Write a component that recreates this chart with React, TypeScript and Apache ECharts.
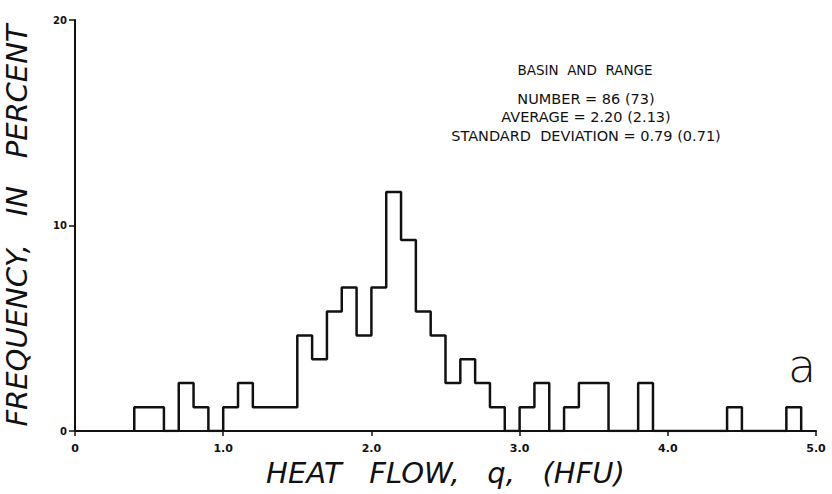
import React, { useEffect, useRef } from "react";
import * as echarts from "echarts";

// Histogram bins (left edge of each 0.1 HFU bin) and frequency in percent
const binStarts = [
  0.4, 0.5, 0.6, 0.7, 0.8, 0.9, 1.0, 1.1, 1.2, 1.3, 1.4, 1.5, 1.6, 1.7, 1.8, 1.9,
  2.0, 2.1, 2.2, 2.3, 2.4, 2.5, 2.6, 2.7, 2.8, 2.9, 3.0, 3.1, 3.2, 3.3, 3.4, 3.5,
  3.6, 3.7, 3.8, 3.9, 4.0, 4.1, 4.2, 4.3, 4.4, 4.5, 4.6, 4.7, 4.8, 4.9,
];
const frequency = [
  1.16, 1.16, 0, 2.33, 1.16, 0, 1.16, 2.33, 1.16, 1.16, 1.16, 4.65, 3.49, 5.81, 6.98, 4.65,
  6.98, 11.63, 9.3, 5.81, 4.65, 2.33, 3.49, 2.33, 1.16, 0, 1.16, 2.33, 0, 1.16, 2.33, 2.33,
  0, 0, 2.33, 0, 0, 0, 0, 0, 1.16, 0, 0, 0, 1.16, 0,
];
const xTicks = [0, 1, 2, 3, 4, 5];
const yTicks = [0, 10, 20];

const infoTitle = "BASIN  AND  RANGE";
const infoLines = [
  "NUMBER = 86 (73)",
  "AVERAGE = 2.20 (2.13)",
  "STANDARD  DEVIATION = 0.79 (0.71)",
];

export default function App() {
  const ref = useRef<HTMLDivElement>(null);
  useEffect(() => {
    if (!ref.current) return;
    const chart = echarts.init(ref.current, null, { renderer: "svg" });
    const points: number[][] = [[binStarts[0], 0]];
    binStarts.forEach((x, i) => points.push([x, frequency[i]]));

    chart.setOption({
      animation: false,
      backgroundColor: "#ffffff",
      grid: {
        left: 75,
        right: 16,
        top: 20,
        bottom: 63,
        containLabel: false,
        outerBoundsMode: "none",
      },
      xAxis: {
        type: "value",
        min: 0,
        max: 5,
        interval: 1,
        name: "HEAT   FLOW,   q,   (HFU)",
        nameLocation: "middle",
        nameGap: 27,
        nameTextStyle: {
          fontFamily: "DejaVu Sans",
          fontStyle: "italic",
          fontSize: 29,
          fontWeight: 300,
          color: "#111",
        },
        axisLine: { lineStyle: { color: "#111", width: 2 } },
        axisTick: { show: true, length: 5, lineStyle: { color: "#111", width: 1.5 } },
        axisLabel: {
          color: "#111",
          fontFamily: "DejaVu Sans",
          fontWeight: "bold",
          fontSize: 11,
          margin: 12,
          customValues: xTicks,
          formatter: (v: number) => (v === 0 ? "0" : v.toFixed(1)),
        },
        splitLine: { show: false },
      },
      yAxis: {
        type: "value",
        min: 0,
        max: 20,
        interval: 10,
        name: "FREQUENCY,   IN   PERCENT",
        nameLocation: "middle",
        nameGap: 44,
        nameTextStyle: {
          fontFamily: "DejaVu Sans",
          fontStyle: "italic",
          fontSize: 29,
          fontWeight: 300,
          color: "#111",
        },
        axisLine: { show: true, lineStyle: { color: "#111", width: 2 } },
        axisTick: { show: true, length: 6, lineStyle: { color: "#111", width: 1.5 } },
        axisLabel: {
          color: "#111",
          fontFamily: "DejaVu Sans",
          fontWeight: "bold",
          fontSize: 10,
          margin: 8,
          customValues: yTicks,
        },
        splitLine: { show: false },
      },
      series: [
        {
          type: "line",
          step: "end",
          data: points,
          symbol: "none",
          lineStyle: { color: "#111", width: 2.5 },
        },
      ],
      graphic: [
        {
          type: "text",
          x: 585,
          y: 63,
          style: {
            text: infoTitle,
            fontFamily: "DejaVu Sans",
            fontSize: 13.5,
            fill: "#111",
            textAlign: "center",
          },
        },
        ...infoLines.map((t, i) => ({
          type: "text",
          x: 586,
          y: 91 + i * 18.5,
          style: {
            text: t,
            fontFamily: "DejaVu Sans",
            fontSize: 14.5,
            fill: "#111",
            textAlign: "center",
          },
        })),
        {
          type: "text",
          x: 802,
          y: 343,
          style: {
            text: "a",
            fontFamily: "DejaVu Sans",
            fontSize: 46,
            fontWeight: 200,
            fill: "#111",
            textAlign: "center",
          },
        },
      ],
    });
    return () => chart.dispose();
  }, []);
  return (
    <div
      ref={ref}
      style={{ position: "fixed", left: 0, top: 0, width: 832, height: 494 }}
    />
  );
}
